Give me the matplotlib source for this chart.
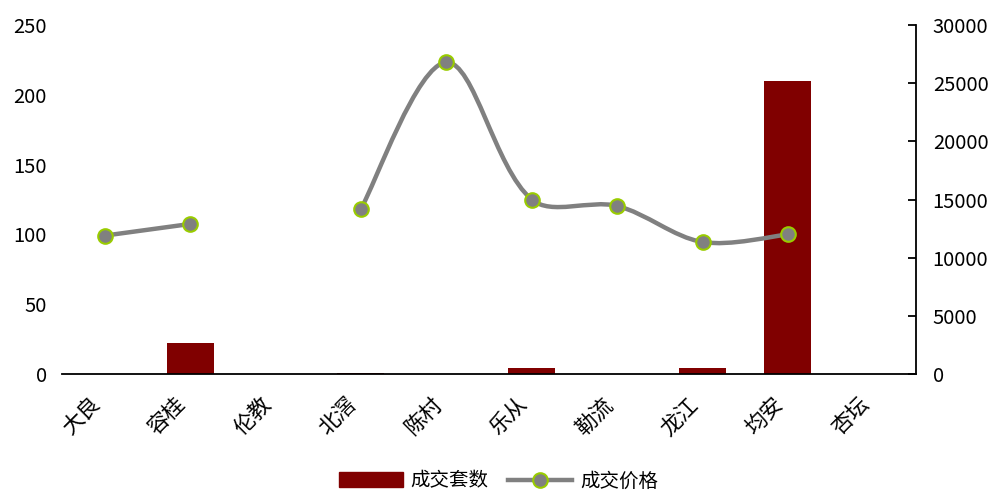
import numpy as np
import matplotlib
matplotlib.use("Agg")
import matplotlib.pyplot as plt
from matplotlib.path import Path
from matplotlib.patches import PathPatch
from matplotlib.lines import Line2D
from matplotlib.patches import Patch

plt.rcParams['font.family'] = ['Noto Sans CJK SC', 'DejaVu Sans']

categories = ['大良', '容桂', '伦教', '北滘', '陈村', '乐从', '勒流', '龙江', '均安', '杏坛']
units = [0, 22, 0, 1, 0, 4, 0, 4, 210, 0]
prices = [11900, 12900, np.nan, 14200, 26800, 15000, 14450, 11350, 12000, np.nan]

bar_color = '#800000'
line_color = '#808080'
edge_color = '#99CC00'

fig = plt.figure(figsize=(9.97, 4.92), dpi=100)
ax = fig.add_axes([0.0622, 0.2398, 0.8566, 0.7092])
ax2 = ax.twinx()

x = np.arange(len(categories))
ax.bar(x, units, width=0.55, color=bar_color, zorder=2)
ax.set_xlim(-0.5, len(categories) - 0.5)
ax.set_ylim(0, 250)
ax.set_yticks(np.arange(0, 251, 50))
ax2.set_ylim(0, 30000)
ax2.set_yticks(np.arange(0, 30001, 5000))

# smooth line segments (chord-scaled Catmull-Rom Bezier, Excel-like), split at gaps
p = np.array(prices, dtype=float)
segments = []
cur = []
for i, v in enumerate(p):
    if np.isnan(v):
        if cur:
            segments.append(cur)
        cur = []
    else:
        cur.append(i)
if cur:
    segments.append(cur)

fig.canvas.draw()
to_disp = ax2.transData
to_data = ax2.transData.inverted()

for seg in segments:
    pts_d = np.array([[i, p[i]] for i in seg])
    if len(pts_d) < 2:
        continue
    pts = to_disp.transform(pts_d)
    n = len(pts)
    verts = [pts[0]]
    codes = [Path.MOVETO]
    for k in range(n - 1):
        p0 = pts[k - 1] if k > 0 else pts[k]
        p1 = pts[k]
        p2 = pts[k + 1]
        p3 = pts[k + 2] if k + 2 < n else pts[k + 1]
        d01 = np.hypot(*(p1 - p0))
        d12 = np.hypot(*(p2 - p1))
        d23 = np.hypot(*(p3 - p2))
        f1 = d12 / (d01 + d12) / 3.0 if d01 > 0 else 1 / 6.0
        f2 = d12 / (d12 + d23) / 3.0 if d23 > 0 else 1 / 6.0
        c1 = p1 + (p2 - p0) * f1
        c2 = p2 - (p3 - p1) * f2
        verts += [c1, c2, p2]
        codes += [Path.CURVE4] * 3
    verts = to_data.transform(np.array(verts))
    patch = PathPatch(Path(verts, codes), facecolor='none', edgecolor=line_color,
                      lw=3.2, capstyle='round', joinstyle='round', zorder=3)
    ax2.add_patch(patch)

ax2.plot(x, p, linestyle='none', marker='o', markersize=10.5,
         markerfacecolor=line_color, markeredgecolor=edge_color,
         markeredgewidth=1.5, zorder=4)

# styling
for s in ['top', 'left', 'right']:
    ax.spines[s].set_visible(False)
for s in ['top', 'left']:
    ax2.spines[s].set_visible(False)
ax.spines['bottom'].set_linewidth(1.3)
ax2.spines['bottom'].set_visible(False)
ax2.spines['right'].set_linewidth(1.3)

ax.tick_params(axis='y', length=0, pad=11, labelsize=14.5, colors='#000000')
ax.tick_params(axis='x', length=0, pad=14)
ax2.tick_params(axis='y', direction='in', length=6, width=1.3, pad=12, labelsize=14.5)

ax.set_xticks(x)
ax.set_xticklabels(categories, rotation=45, ha='right', va='top', fontsize=15.5)

handles = [Patch(facecolor=bar_color, edgecolor=bar_color),
           Line2D([0], [0], color=line_color, lw=3.2, marker='o', markersize=10.5,
                  markerfacecolor=line_color, markeredgecolor=edge_color, markeredgewidth=1.5)]
fig.legend(handles, ['成交套数', '成交价格'], loc='center', bbox_to_anchor=(0.5, 0.022),
           ncol=2, frameon=False, fontsize=14, handlelength=3.3, handleheight=0.8,
           columnspacing=1.0, handletextpad=0.4)

fig.savefig('out.png', dpi=100)
